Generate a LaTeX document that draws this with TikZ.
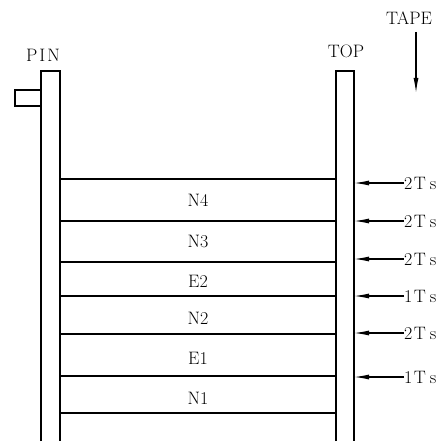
\documentclass[tikz,border=0pt]{standalone}
\usepackage{fontspec}
\usetikzlibrary{arrows.meta}
\newcommand{\tsl}[1]{#1\kern1.5pt T\kern4pt s}
\begin{document}
\begin{tikzpicture}[x=1pt,y=-1pt,
  thing/.style={line width=1.1pt},
  lbl/.style={font=\fontsize{18}{20}\selectfont, inner sep=0pt},
  feed/.style={line width=1.2pt, -{Latex[length=15pt,width=5pt]}}]
\useasboundingbox (0,0) rectangle (446,441);
% posts
\draw[thing] (41,441) -- (41,71) -- (60,71) -- (60,441);
\draw[thing] (336,441) -- (336,71) -- (354,71) -- (354,441);
% pin tab
\draw[thing] (41,90) -- (15,90) -- (15,106) -- (41,106);
% stack
\draw[thing] (60,179) rectangle (336,413);
\foreach \yy in {221,262,296,334,376} \draw[thing] (60,\yy) -- (336,\yy);
\node[lbl] (n4) at (198,200) {N4};
\node[lbl] (n3) at (198,241) {N3};
\node[lbl] (e2) at (198,281) {E2};
\node[lbl] (n2) at (198,318) {N2};
\node[lbl] (e1) at (198,358) {E1};
\node[lbl] (n1) at (198,398) {N1};
% titles
\node[lbl] (pin) at (43,55) {P\kern2pt I\kern2pt N};
\node[lbl] (top) at (346,51) {TOP};
\node[lbl] (tape) at (409,18) {TAPE};
\coordinate (tapeS) at (416,32);
\coordinate (tapeE) at (416,93);
\draw[feed] (tapeS) -- (tapeE);
% feed arrows
\foreach \nm/\yy/\tx in {a/183/2,b/221/2,c/259/2,d/296/1,e/333/2,f/377/1}{
  \node[lbl, anchor=west] (t\nm) at (404,\yy) {\tsl{\tx}};
  \coordinate (p\nm) at (354,\yy);
  \draw[feed] (t\nm.west) -- (p\nm);
}
\end{tikzpicture}
\end{document}
